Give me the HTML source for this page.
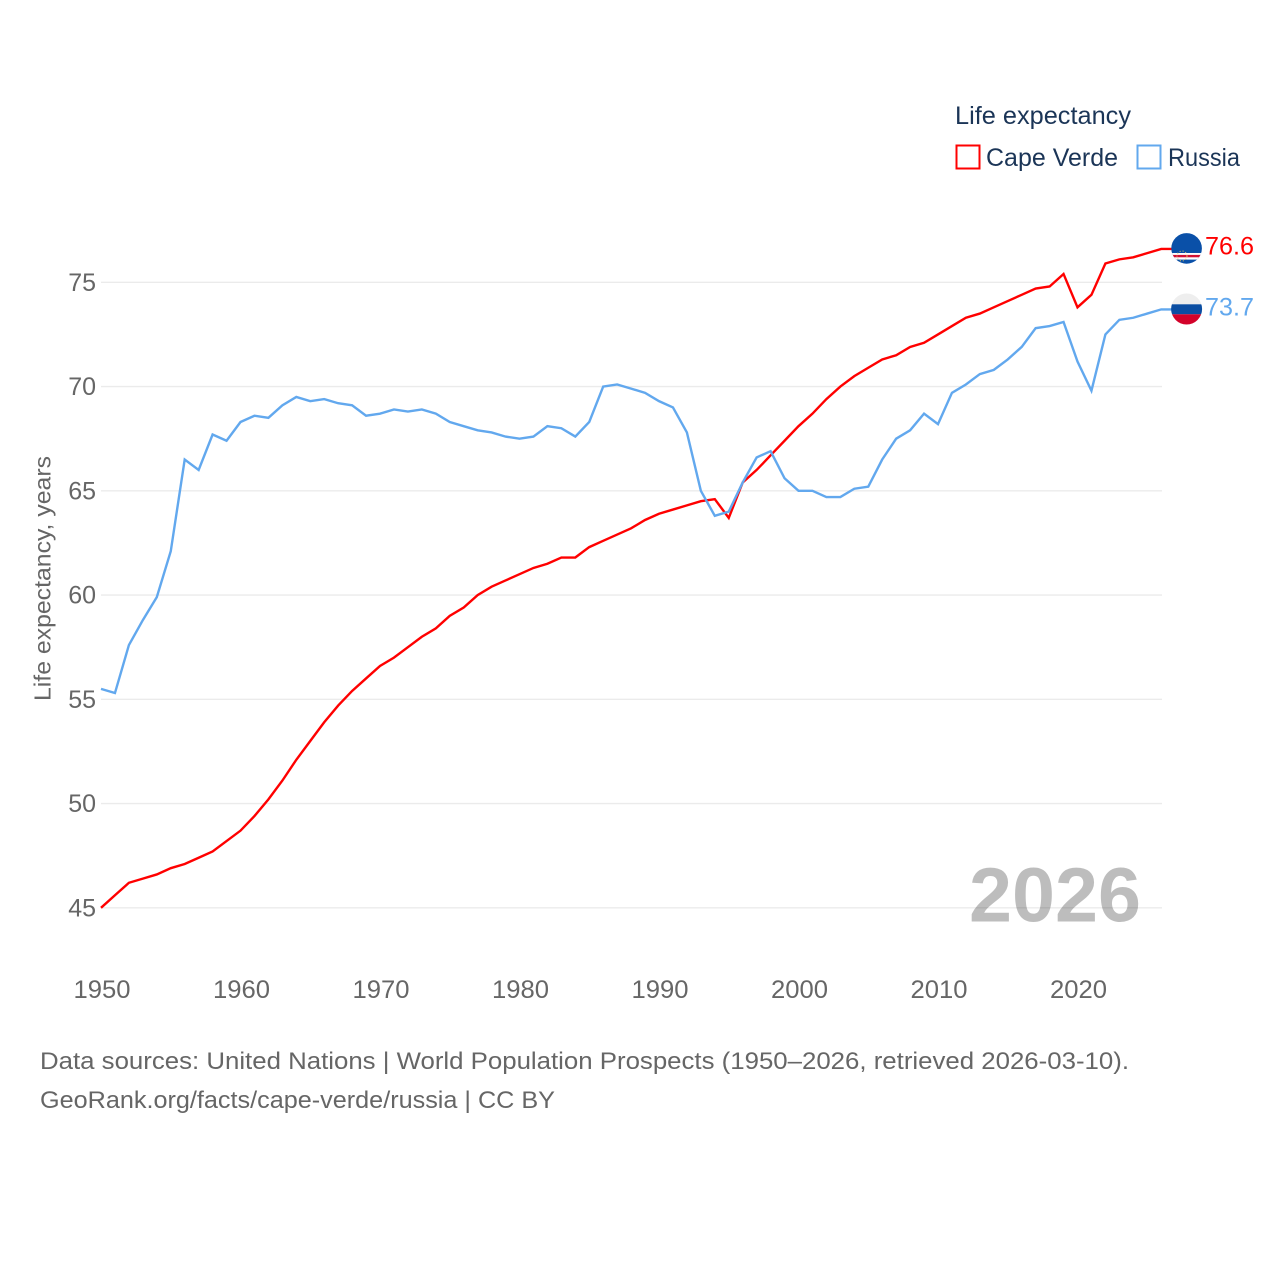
<!DOCTYPE html>
<html lang="en">
<head>
<meta charset="utf-8">
<title>Life expectancy: Cape Verde and Russia</title>
<style>
html,body{margin:0;padding:0;background:#fff;width:1280px;height:1280px;overflow:hidden}
svg{display:block;font-family:"Liberation Sans",sans-serif}
</style>
</head>
<body>
<svg id="chart" xmlns="http://www.w3.org/2000/svg" width="1280" height="1280" viewBox="0 0 1280 1280">
  <defs>
    <clipPath id="clip-cv"><circle cx="1186.6" cy="248.4" r="15.3"/></clipPath>
    <clipPath id="clip-ru"><circle cx="1186.6" cy="309" r="15.5"/></clipPath>
  </defs>
  <g id="grid"></g>
  <g id="y-ticks"></g>
  <g id="x-ticks"></g>
  <text transform="translate(50.5,701) rotate(-90)" font-size="23" fill="#666" textLength="245" lengthAdjust="spacingAndGlyphs">Life expectancy, years</text>
  <text x="969" y="921.5" font-size="77" font-weight="700" fill="#000" fill-opacity="0.26" textLength="172" lengthAdjust="spacingAndGlyphs">2026</text>
  <g id="series"></g>

  <g clip-path="url(#clip-cv)">
    <rect x="1170" y="232" width="34" height="34" fill="#0a50a8"/>
    <rect x="1170" y="253" width="34" height="6.6" fill="#fff"/>
    <rect x="1170" y="254.9" width="34" height="2.4" fill="#d21034"/>
    <circle cx="1182" cy="256" r="5" fill="none" stroke="#e8c860" stroke-width="1" stroke-dasharray="1 2"/>
  </g>
  <g clip-path="url(#clip-ru)">
    <rect x="1170" y="293" width="34" height="11.3" fill="#eeeeee"/>
    <rect x="1170" y="304.3" width="34" height="10" fill="#0b4ea2"/>
    <rect x="1170" y="314.3" width="34" height="11" fill="#d3022a"/>
  </g>
  <text x="1205" y="254.5" font-size="25" fill="#ff0000" textLength="49" lengthAdjust="spacingAndGlyphs">76.6</text>
  <text x="1205" y="315.5" font-size="25" fill="#62a8ee" textLength="49" lengthAdjust="spacingAndGlyphs">73.7</text>

  <g>
    <text x="955" y="124" font-size="25" fill="#1b3557" textLength="176" lengthAdjust="spacingAndGlyphs">Life expectancy</text>
    <g>
      <rect x="956.5" y="145.5" width="23" height="23" fill="none" stroke="#ff0000" stroke-width="2"/>
      <text x="986" y="166" font-size="25" fill="#1b3557" textLength="132" lengthAdjust="spacingAndGlyphs">Cape Verde</text>
    </g>
    <g>
      <rect x="1137.5" y="145.5" width="23" height="23" fill="none" stroke="#62a8ee" stroke-width="2"/>
      <text x="1168" y="166" font-size="25" fill="#1b3557" textLength="72" lengthAdjust="spacingAndGlyphs">Russia</text>
    </g>
  </g>

  <text x="40" y="1069" font-size="24" fill="#666" textLength="1089" lengthAdjust="spacingAndGlyphs">Data sources: United Nations | World Population Prospects (1950–2026, retrieved 2026-03-10).</text>
  <text x="40" y="1108" font-size="24" fill="#666" textLength="515" lengthAdjust="spacingAndGlyphs">GeoRank.org/facts/cape-verde/russia | CC BY</text>
</svg>
<script>
const startYear = 1950;
const capeVerde = [45.0,45.6,46.2,46.4,46.6,46.9,47.1,47.4,47.7,48.2,48.7,49.4,50.2,51.1,52.1,53.0,53.9,54.7,55.4,56.0,56.6,57.0,57.5,58.0,58.4,59.0,59.4,60.0,60.4,60.7,61.0,61.3,61.5,61.8,61.8,62.3,62.6,62.9,63.2,63.6,63.9,64.1,64.3,64.5,64.6,63.7,65.4,66.0,66.7,67.4,68.1,68.7,69.4,70.0,70.5,70.9,71.3,71.5,71.9,72.1,72.5,72.9,73.3,73.5,73.8,74.1,74.4,74.7,74.8,75.4,73.8,74.4,75.9,76.1,76.2,76.4,76.6];
const russia = [55.5,55.3,57.6,58.8,59.9,62.1,66.5,66.0,67.7,67.4,68.3,68.6,68.5,69.1,69.5,69.3,69.4,69.2,69.1,68.6,68.7,68.9,68.8,68.9,68.7,68.3,68.1,67.9,67.8,67.6,67.5,67.6,68.1,68.0,67.6,68.3,70.0,70.1,69.9,69.7,69.3,69.0,67.8,65.0,63.8,64.0,65.4,66.6,66.9,65.6,65.0,65.0,64.7,64.7,65.1,65.2,66.5,67.5,67.9,68.7,68.2,69.7,70.1,70.6,70.8,71.3,71.9,72.8,72.9,73.1,71.2,69.8,72.5,73.2,73.3,73.5,73.7];
const yTicks = [45,50,55,60,65,70,75];
const xTicks = [1950,1960,1970,1980,1990,2000,2010,2020];

const NS = 'http://www.w3.org/2000/svg';
function xScale(year){ return 101 + (year - 1950) * 13.95; }
function yScale(v){ return 907.8 - (v - 45) * 20.85; }

const grid = document.getElementById('grid');
const yGroup = document.getElementById('y-ticks');
const xGroup = document.getElementById('x-ticks');
const seriesGroup = document.getElementById('series');

yTicks.forEach(function(t){
  const line = document.createElementNS(NS,'line');
  
  
  line.setAttribute('x1', 101);
  line.setAttribute('x2', 1162);
  line.setAttribute('y1', yScale(t));
  line.setAttribute('y2', yScale(t));
  line.setAttribute('stroke', '#ebebeb');
  line.setAttribute('stroke-width', 1.3);
  grid.appendChild(line);
  const label = document.createElementNS(NS,'text');
  
  
  label.setAttribute('x', 96);
  label.setAttribute('y', yScale(t) + 8.5);
  label.setAttribute('text-anchor', 'end');
  label.setAttribute('font-size', 25);
  label.setAttribute('fill', '#666');
  label.textContent = t;
  yGroup.appendChild(label);
});

xTicks.forEach(function(t){
  const label = document.createElementNS(NS,'text');
  
  
  label.setAttribute('x', xScale(t) + 1);
  label.setAttribute('y', 998);
  label.setAttribute('text-anchor', 'middle');
  label.setAttribute('font-size', 25);
  label.setAttribute('fill', '#666');
  label.setAttribute('textLength', 57);
  label.setAttribute('lengthAdjust', 'spacingAndGlyphs');
  label.textContent = t;
  xGroup.appendChild(label);
});

function drawSeries(values, color, name){
  const pts = values.map(function(v,i){ return xScale(startYear + i).toFixed(2) + ',' + yScale(v).toFixed(2); });
  const path = document.createElementNS(NS,'polyline');
  
  
  const last = values[values.length - 1];
  pts.push('1172,' + yScale(last).toFixed(2));
  path.setAttribute('points', pts.join(' '));
  path.setAttribute('fill', 'none');
  path.setAttribute('stroke', color);
  path.setAttribute('stroke-width', 2.4);
  path.setAttribute('stroke-linejoin', 'miter');
  seriesGroup.appendChild(path);
}
drawSeries(capeVerde, '#ff0000', 'cape-verde');
drawSeries(russia, '#62a8ee', 'russia');
</script>
</body>
</html>
